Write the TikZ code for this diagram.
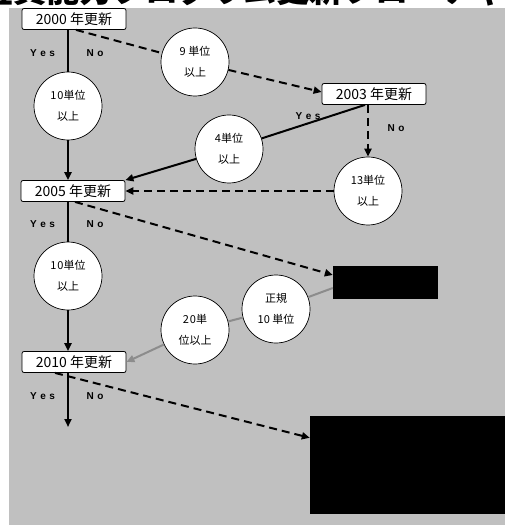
\documentclass[tikz,border=0pt]{standalone}
\usepackage{fontspec}
\setmainfont{Liberation Sans}
\newfontfamily\cjk{Noto Sans CJK JP}
\usetikzlibrary{arrows.meta,calc}
\definecolor{bg}{HTML}{C0C0C0}
\definecolor{gline}{HTML}{8C8C8C}
\begin{document}
\begin{tikzpicture}[x=1pt,y=-1pt,
  yearbox/.style={draw=black,line width=0.8pt,fill=white,rounded corners=2pt,minimum width=104pt,minimum height=21pt,inner sep=0pt,font=\cjk\fontsize{14}{14}\selectfont},
  cond/.style={circle,draw=black,line width=0.7pt,fill=white,minimum size=68pt,inner sep=0pt,align=center,font=\cjk\fontsize{11}{21}\selectfont},
  redact/.style={fill=black,draw=none,inner sep=0pt},
  yn/.style={font=\bfseries\fontsize{10}{10}\selectfont,inner sep=0pt},
  yesline/.style={line width=2pt,black},
  noline/.style={line width=2pt,black,dash pattern=on 8pt off 5pt},
  tip/.style={-{Triangle[length=8pt,width=7pt]}},
  grayline/.style={line width=2pt,gline},
]
\useasboundingbox (0,0) rectangle (505,526);
\fill[white] (0,0) rectangle (505,526);
\begin{scope}
\clip (0,0) rectangle (505,8);
\node[anchor=base west,inner sep=0pt,font=\cjk\bfseries\fontsize{33}{33}\selectfont] (title) at (-53,2.5) {審査員能力プログラム更新フローチャート};
\end{scope}
\fill[bg] (9,8) rectangle (505,525);

% year boxes
\node[yearbox] (b2000) at (74,19) {2000 年更新};
\node[yearbox] (b2003) at (374,94) {2003 年更新};
\node[yearbox] (b2005) at (73,191) {2005 年更新};
\node[yearbox] (b2010) at (74,362) {2010 年更新};

% condition circles
\node[cond] (c9) at (195,62) {9 単位\\以上};
\node[cond] (c10a) at (68,106) {1\kern1pt 0単位\\以上};
\node[cond] (c4) at (229,149) {4単位\\以上};
\node[cond] (c13) at (368,191) {13単位\\以上};
\node[cond] (c10b) at (68,276) {1\kern1pt 0単位\\以上};
\node[cond] (cS) at (276,309) {正規\\10 単位};
\node[cond] (c20) at (195,330) {2\kern1pt 0単\\位以上};

% redacted boxes
\node[redact,minimum width=105pt,minimum height=33pt] (blk1) at (385.5,282.5) {};
\node[redact,minimum width=195pt,minimum height=98pt] (blk2) at (407.5,465) {};
\coordinate (end1) at (68,427);

% connectors
\draw[yesline] (c10a |- b2000.south) -- (c10a.north);
\draw[yesline,tip] (c10a.south) -- (c10a |- b2005.north);
\draw[noline] ($(b2000.south)+(2,0)$) -- (c9);
\draw[noline,tip] (c9) -- ($(b2003.west)+(0,-2)$);
\draw[yesline] ($(b2003.south)+(-9,0)$) -- (c4);
\draw[yesline,tip] (c4) -- (b2005.north east);
\draw[noline,tip] (c13 |- b2003.south) -- (c13.north);
\draw[noline,tip] (c13) -- (b2005.east);
\draw[yesline] (c10b |- b2005.south) -- (c10b.north);
\draw[yesline,tip] (c10b.south) -- (c10b |- b2010.north);
\draw[noline,tip] ($(b2005.south)+(2,0)$) -- ($(blk1.west)+(0,-7.5)$);
\draw[grayline] ($(blk1.west)+(0,5.5)$) -- (cS);
\draw[grayline] (cS) -- (c20);
\draw[grayline,tip] (c20) -- (b2010.east);
\draw[yesline,tip] (c10b |- b2010.south) -- (end1);
\draw[noline,tip] ($(b2010.south)+(-19,0)$) -- ($(blk2.north west)+(0,22)$);

% yes / no labels
\node[yn] (y1) at (42.5,53) {Y\kern3.5pt e\kern3.5pt s};
\node[yn] (n1) at (95,53) {N\kern3.5pt o};
\node[yn] (y2) at (42.5,224) {Y\kern3.5pt e\kern3.5pt s};
\node[yn] (n2) at (95,224) {N\kern3.5pt o};
\node[yn] (y3) at (42.5,396) {Y\kern3.5pt e\kern3.5pt s};
\node[yn] (n3) at (95,396) {N\kern3.5pt o};
\node[yn] (y4) at (308,116) {Y\kern3.5pt e\kern3.5pt s};
\node[yn] (n4) at (396,128) {N\kern3.5pt o};
\end{tikzpicture}
\end{document}
